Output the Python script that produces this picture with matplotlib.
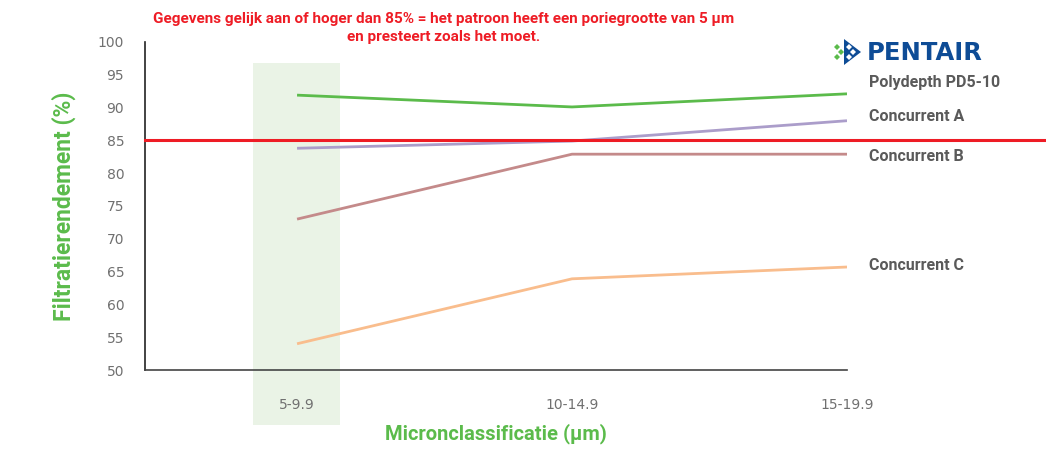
"""Filtratierendement per microclassificatie: Polydepth PD5-10 vs concurrenten."""

import matplotlib.pyplot as plt
from matplotlib.patches import Polygon, Rectangle

categories = ["5-9.9", "10-14.9", "15-19.9"]
series_names = ["Polydepth PD5-10", "Concurrent A", "Concurrent B", "Concurrent C"]
polydepth = [91.9, 90.1, 92.1]
concurrent_a = [83.8, 84.9, 88.0]
concurrent_b = [73.0, 82.9, 82.9]
concurrent_c = [54.0, 63.9, 65.7]
threshold = 85
y_ticks = [50, 55, 60, 65, 70, 75, 80, 85, 90, 95, 100]

GREEN = "#5bbb4b"
RED = "#ee1c25"
GREY = "#5a5a5a"
line_colors = ["#5bbb4b", "#ab9dca", "#c48a8a", "#f9bd8d"]
label_y = [93.75, 88.6, 82.5, 66.0]

fig = plt.figure(figsize=(10.46, 4.62), dpi=100)
ax = fig.add_axes([145 / 1046, 1 - 370 / 462, 702 / 1046, 328 / 462])

x = list(range(len(categories)))

# light green highlight behind the first class, reaching below the axis
ax.add_patch(Rectangle((-0.16, 41.6), 0.315, 55.2, facecolor="#eaf3e6",
                       edgecolor="none", clip_on=False, zorder=0))

for name, values, color in zip(series_names,
                               [polydepth, concurrent_a, concurrent_b, concurrent_c],
                               line_colors):
    ax.plot(x, values, color=color, lw=2.0, solid_capstyle="butt", zorder=2)

ax.axhline(threshold, xmin=0, xmax=(1046 - 145) / 702, color=RED, lw=2.2,
           clip_on=False, zorder=3)

for name, yy in zip(series_names, label_y):
    ax.text(2.08, yy, name, color=GREY, fontsize=11.5, fontweight="bold",
            family="Roboto", va="center", ha="left")

ax.set_xlim(-0.553, 2.0)
ax.set_ylim(50, 100)
ax.set_xticks(x)
ax.set_xticklabels(categories)
ax.set_yticks(y_ticks)
ax.tick_params(axis="both", length=0, labelsize=10, labelcolor="#707070")
ax.tick_params(axis="x", pad=20)
ax.tick_params(axis="y", pad=15)
for lab in ax.get_xticklabels() + ax.get_yticklabels():
    lab.set_family(["Liberation Sans Narrow", "DejaVu Sans"])

for side in ["top", "right"]:
    ax.spines[side].set_visible(False)
ax.spines["left"].set_color("#222222")
ax.spines["bottom"].set_color("#444444")
ax.spines["left"].set_linewidth(1.2)
ax.spines["bottom"].set_linewidth(1.2)

ax.set_ylabel("Filtratierendement (%)", color=GREEN, fontsize=16.5,
              fontweight="bold", family="Roboto", labelpad=16)
ax.set_xlabel("Micronclassificatie (µm)", color=GREEN, fontsize=14.5,
              fontweight="bold", family="Roboto", labelpad=8)

fig.text(444 / 1046, 1 - 28 / 462,
         "Gegevens gelijk aan of hoger dan 85% = het patroon heeft een poriegrootte van 5 µm\n"
         "en presteert zoals het moet.",
         color=RED, fontsize=11, fontweight="bold", family="Roboto",
         ha="center", va="center", linespacing=1.4)

# Pentair logo
W, H = 1046, 462


def fc(px, py):
    return (px / W, 1 - py / H)


fig.patches.append(Polygon([fc(844, 39), fc(861, 52), fc(844, 65)], closed=True,
                           facecolor="#0e4c96", edgecolor="none",
                           transform=fig.transFigure, figure=fig))
for cx, cy, col in [(837, 47, GREEN), (837, 57, GREEN), (841, 52, GREEN),
                    (849, 47, "white"), (849, 57, "white"), (853, 52, "white")]:
    d = 3.0
    fig.patches.append(Polygon([fc(cx - d, cy), fc(cx, cy - d), fc(cx + d, cy), fc(cx, cy + d)],
                               closed=True, facecolor=col, edgecolor="none",
                               transform=fig.transFigure, figure=fig))
fig.text(867 / W, 1 - 53 / H, "PENTAIR", color="#0e4c96", fontsize=17.5,
         fontweight="bold", family="DejaVu Sans", ha="left", va="center")

fig.savefig("out.png", dpi=100)
